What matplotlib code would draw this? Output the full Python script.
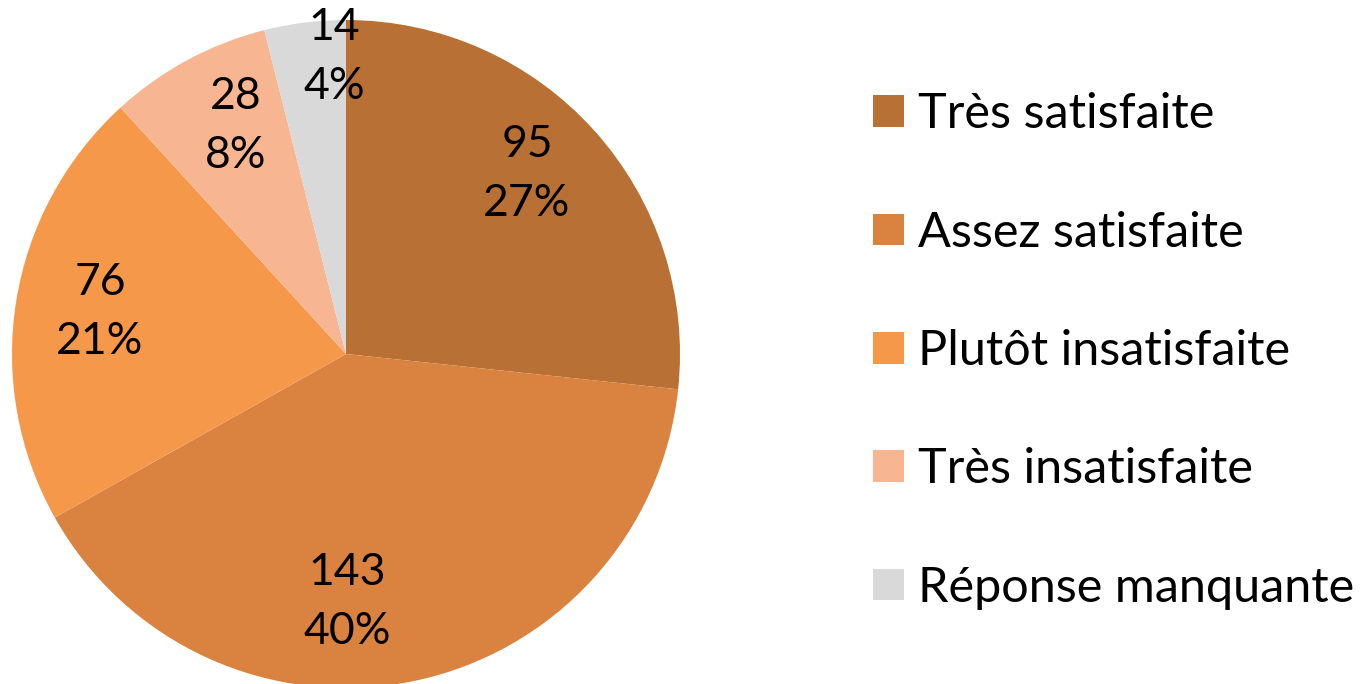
import matplotlib.pyplot as plt
from matplotlib.patches import Patch

# Data
categories = ["Très satisfaite", "Assez satisfaite", "Plutôt insatisfaite",
              "Très insatisfaite", "Réponse manquante"]
counts = [95, 143, 76, 28, 14]
colors = ["#B97034", "#DA823F", "#F6984A", "#F8B591", "#D9D9D9"]

plt.rcParams['font.family'] = ['Lato', 'DejaVu Sans']

fig = plt.figure(figsize=(13.71, 6.84), dpi=100)
ax = fig.add_axes([0, 0, 1, 1])

total = sum(counts)


def label(pct):
    n = int(round(pct * total / 100.0))
    return "{}\n{:.0f}%".format(n, pct)


wedges, texts, autotexts = ax.pie(counts, colors=colors, startangle=90, counterclock=False,
                                  center=(346, 330), radius=334, autopct=label,
                                  pctdistance=0.75, wedgeprops=dict(linewidth=0),
                                  textprops=dict(fontsize=32, color='black', linespacing=1.55))

# label spots as excel's "best fit" put them
label_pos = [(527, 510), (347, 82), (100, 372), (236, 558), (334, 627)]
for t, p in zip(autotexts, label_pos):
    t.set_position(p)

ax.set_xlim(0, 1371)
ax.set_ylim(0, 684)
ax.set_aspect('equal')
ax.axis('off')

handles = [Patch(facecolor=c, edgecolor='none') for c in colors]
ax.legend(handles, categories, loc='center left', bbox_to_anchor=(854 / 1371, 0.487),
          frameon=False, fontsize=35, handlelength=0.62, handleheight=0.62,
          handletextpad=0.3, labelspacing=1.53, borderaxespad=0)

fig.savefig('out.png', dpi=100)
